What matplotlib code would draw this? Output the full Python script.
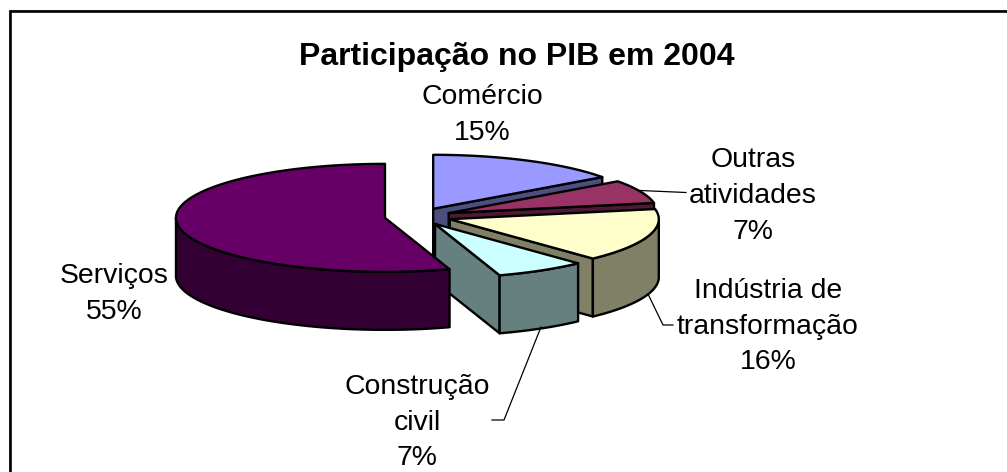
import numpy as np
import matplotlib.pyplot as plt

# dados do grafico
nomes = ["Comércio", "Outras\natividades", "Indústria de\ntransformação", "Construção\ncivil", "Serviços"]
valores = [15, 7, 16, 7, 55]
cores_topo = ["#9999FF", "#993366", "#FFFFCC", "#CCFFFF", "#660066"]
cores_lado = ["#4D4D80", "#4D1A33", "#808066", "#668080", "#330033"]

titulo = "Participação no PIB em 2004"

# geometria da pizza em pixels
cx, cy = 418, 216.5
a, b = 209, 54
altura = 58
explode = 0.16

pos_rotulos = [(482, 115), (753, 196), (768, 326.5), (417, 422.5), (114, 294)]
guias = {
    1: [(640, 190.5), (686, 192.5)],
    2: [(648, 294), (663, 325), (673, 325)],
    3: [(541, 327), (504, 420), (492, 420)],
}

plt.rcParams['font.family'] = ['Liberation Sans', 'DejaVu Sans']

fig = plt.figure(figsize=(10.07, 4.72), dpi=100)
ax = fig.add_axes([0, 0, 1, 1])
ax.set_xlim(0, 1007)
ax.set_ylim(472, 0)
ax.axis('off')


def borda(x0, y0, t):
    return x0 + a * np.sin(t), y0 - b * np.cos(t)


def parede(xs, ys, cor, z):
    px = np.concatenate([xs, xs[::-1]])
    py = np.concatenate([ys, (ys + altura)[::-1]])
    ax.fill(px, py, facecolor=cor, edgecolor='black', linewidth=1.7, joinstyle='round', zorder=z)


inicio = 0.0
total = sum(valores)
for i, v in enumerate(valores):
    fim = inicio + 2 * np.pi * v / total
    meio = (inicio + fim) / 2
    x0 = cx + explode * a * np.sin(meio)
    y0 = cy - explode * b * np.cos(meio)
    z = 2 + i * 3

    # parede do corte (so as que ficam de frente)
    if np.sin(fim) > 1e-6:
        xf, yf = borda(x0, y0, fim)
        parede(np.array([x0, xf]), np.array([y0, yf]), cores_lado[i], z)
    if np.sin(inicio) < -1e-6:
        xf, yf = borda(x0, y0, inicio)
        parede(np.array([x0, xf]), np.array([y0, yf]), cores_lado[i], z)

    # parede externa
    t1 = max(inicio, np.pi / 2)
    t2 = min(fim, 3 * np.pi / 2)
    if t2 > t1:
        ts = np.linspace(t1, t2, 80)
        xs, ys = borda(x0, y0, ts)
        parede(xs, ys, cores_lado[i], z + 1)

    # topo
    ts = np.linspace(inicio, fim, 120)
    xs, ys = borda(x0, y0, ts)
    ax.fill(np.r_[x0, xs], np.r_[y0, ys], facecolor=cores_topo[i], edgecolor='black',
            linewidth=1.7, joinstyle='round', zorder=z + 2)

    ax.text(pos_rotulos[i][0], pos_rotulos[i][1], f"{nomes[i]}\n{v}%", ha='center', va='center',
            multialignment='center', fontsize=20.4, linespacing=1.48, color='black', zorder=30)
    inicio = fim

for pts in guias.values():
    ax.plot([p[0] for p in pts], [p[1] for p in pts], color='black', linewidth=0.9, zorder=25)

ax.text(517, 57.5, titulo, ha='center', va='center', fontsize=23, fontweight='bold', zorder=30)

# moldura: so aparecem os lados de cima e da esquerda
ax.plot([9.8, 9.8, 1007], [472, 11, 11], color='black', linewidth=1.9, solid_joinstyle='miter', zorder=31)
ax.plot([8.5, 8.5, 1007], [472, 9.5, 9.5], color='#AAAAAA', linewidth=0.8, zorder=30)

fig.savefig('out.png', dpi=100)
